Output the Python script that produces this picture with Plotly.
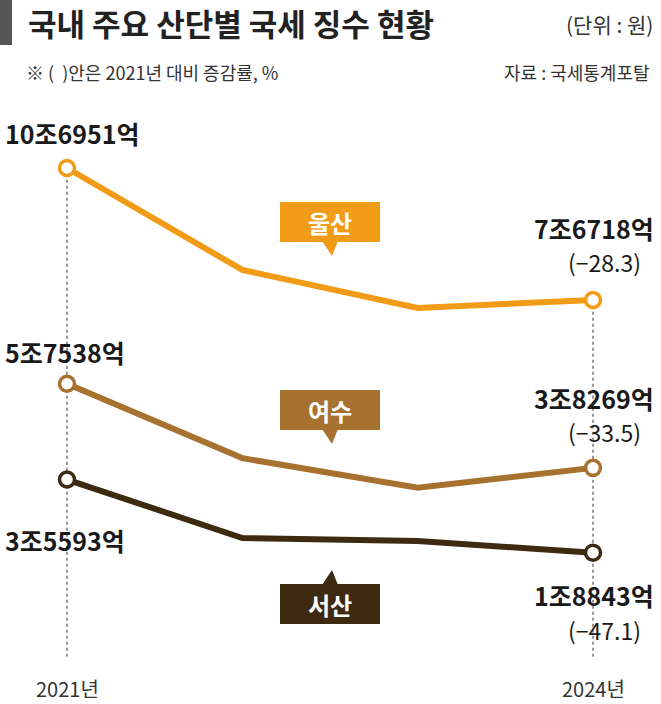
import plotly.graph_objects as go

years = [2021, 2022, 2023, 2024]
ulsan = [10.6951, 8.36, 7.49, 7.6718]
yeosu = [5.7538, 4.05, 3.37, 3.8269]
seosan = [3.5593, 2.22, 2.15, 1.8843]
year_labels = ["2021년", "2024년"]

C_U, C_Y, C_S = "#F29B16", "#A7712F", "#3E2A10"
W, H = 661, 704
fig = go.Figure()
for x in [2021, 2024]:
    fig.add_shape(type="line", x0=x, x1=x, y0=-0.5, y1=ulsan[0] if x == 2021 else ulsan[-1], xref="x", yref="y",
                  line=dict(color="#555", width=1.2, dash="dot"), layer="below")
for vals, c in [(ulsan, C_U), (yeosu, C_Y), (seosan, C_S)]:
    fig.add_trace(go.Scatter(x=years, y=vals, mode="lines", line=dict(color=c, width=6), hoverinfo="skip"))
    fig.add_trace(go.Scatter(x=[years[0], years[-1]], y=[vals[0], vals[-1]], mode="markers",
                             marker=dict(size=15, color="white", line=dict(color=c, width=3.5)), hoverinfo="skip"))

def px(x, y):
    return x / W, 1 - y / H

anns = []
def txt(x, y, t, size, color="#222", xa="left", bold=False, font="Noto Sans CJK KR"):
    xx, yy = px(x, y)
    anns.append(dict(x=xx, y=yy, xref="paper", yref="paper", text=(f"<b>{t}</b>" if bold else t),
                     showarrow=False, xanchor=xa, yanchor="middle",
                     font=dict(size=size, color=color, family=font)))

txt(26, 22, "국내 주요 산단별 국세 징수 현황", 31, "#222", bold=True)
txt(655, 24, "(단위 : 원)", 21, "#333", xa="right")
txt(24, 72, "※ (  )안은 2021년 대비 증감률, %", 18, "#333")
txt(652, 72, "자료 : 국세통계포탈", 18, "#333", xa="right")

txt(3, 133, "10조6951억", 25, "#1a1a1a", bold=True)
txt(656, 228, "7조6718억", 25, "#1a1a1a", xa="right", bold=True)
txt(643, 262, "(−28.3)", 23, "#1a1a1a", xa="right")
txt(3, 352, "5조7538억", 25, "#1a1a1a", bold=True)
txt(656, 398, "3조8269억", 25, "#1a1a1a", xa="right", bold=True)
txt(643, 432, "(−33.5)", 23, "#1a1a1a", xa="right")
txt(3, 540, "3조5593억", 25, "#1a1a1a", bold=True)
txt(656, 595, "1조8843억", 25, "#1a1a1a", xa="right", bold=True)
txt(643, 630, "(−47.1)", 23, "#1a1a1a", xa="right")
txt(67, 688, year_labels[0], 20, "#333", xa="center")
txt(593, 688, year_labels[1], 20, "#333", xa="center")

shapes = list(fig.layout.shapes)
shapes.append(dict(type="rect", xref="paper", yref="paper", x0=0, x1=12/W, y0=1-45/H, y1=1,
                   fillcolor="#555", line=dict(width=0)))

def box(cx, cy, label, c, tip):
    x0, y0 = px(cx - 50, cy + 20)
    x1, y1 = px(cx + 50, cy - 20)
    shapes.append(dict(type="rect", xref="paper", yref="paper", x0=x0, x1=x1, y0=y0, y1=y1,
                       fillcolor=c, line=dict(width=0)))
    if tip == "down":
        pts = [(cx - 8, cy + 19), (cx + 8, cy + 19), (cx + 2, cy + 34)]
    else:
        pts = [(cx - 8, cy - 19), (cx + 8, cy - 19), (cx + 2, cy - 34)]
    path = "M " + " L ".join(f"{px(a,b)[0]},{px(a,b)[1]}" for a, b in pts) + " Z"
    shapes.append(dict(type="path", xref="paper", yref="paper", path=path, fillcolor=c, line=dict(width=0)))
    txt(cx, cy, label, 24, "white", xa="center", bold=True)

box(330, 222, "울산", C_U, "down")
box(330, 410, "여수", C_Y, "down")
box(330, 604, "서산", C_S, "up")

fig.update_layout(
    width=W, height=H, margin=dict(l=0, r=0, t=0, b=0),
    paper_bgcolor="white", plot_bgcolor="white", showlegend=False,
    xaxis=dict(range=[2021 - 67/175.33, 2024 + 68/175.33], visible=False, fixedrange=True),
    yaxis=dict(range=[10.6951 - 536/43.66, 10.6951 + 168/43.66], visible=False, fixedrange=True),
    annotations=anns, shapes=shapes,
)
fig.write_html("out.html", config={"displayModeBar": False})
with open("out.html", encoding="utf-8") as f:
    html = f.read()
html = html.replace("<body>", "<body style=\"margin:0;padding:0;overflow:hidden\">", 1)
with open("out.html", "w", encoding="utf-8") as f:
    f.write(html)
